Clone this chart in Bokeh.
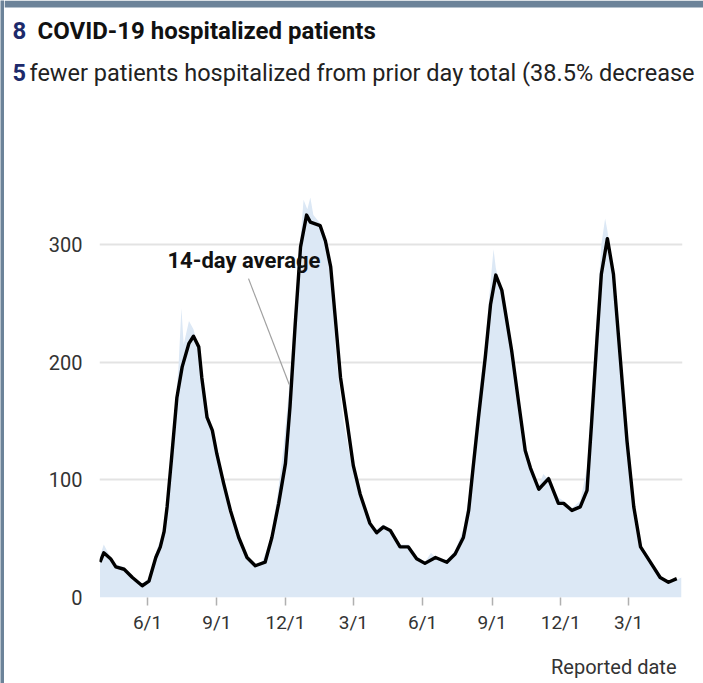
import pandas as pd
from bokeh.plotting import figure
from bokeh.layouts import row, column
from bokeh.models import (ColumnDataSource, Range1d, FixedTicker, DatetimeTickFormatter,
                          Label)
from bokeh.embed import file_html
from bokeh.resources import INLINE

# ---------------- data ----------------
avg_dates = [
    "2020-03-30", "2020-04-04", "2020-04-13", "2020-04-20", "2020-05-01", "2020-05-12",
    "2020-05-25", "2020-06-03", "2020-06-12", "2020-06-18", "2020-06-23", "2020-06-27",
    "2020-07-03", "2020-07-10", "2020-07-17", "2020-07-26", "2020-08-01", "2020-08-08",
    "2020-08-12", "2020-08-19", "2020-08-26", "2020-09-01", "2020-09-10", "2020-09-19",
    "2020-09-30", "2020-10-11", "2020-10-22", "2020-11-04", "2020-11-13", "2020-11-22",
    "2020-12-01", "2020-12-07", "2020-12-14", "2020-12-21", "2020-12-29", "2021-01-03",
    "2021-01-16", "2021-01-23", "2021-01-30", "2021-02-05", "2021-02-12", "2021-02-21",
    "2021-03-01", "2021-03-10", "2021-03-23", "2021-04-01", "2021-04-10",
    "2021-04-19", "2021-05-02", "2021-05-13", "2021-05-24", "2021-06-04", "2021-06-18",
    "2021-07-03", "2021-07-14", "2021-07-25", "2021-08-01", "2021-08-07", "2021-08-14",
    "2021-08-23", "2021-08-30", "2021-09-06", "2021-09-14", "2021-09-27", "2021-10-06",
    "2021-10-15", "2021-10-22", "2021-11-02", "2021-11-15", "2021-11-28", "2021-12-05",
    "2021-12-16", "2021-12-27", "2022-01-05", "2022-01-11", "2022-01-18", "2022-01-24",
    "2022-02-01", "2022-02-09", "2022-02-18", "2022-02-27", "2022-03-08", "2022-03-17",
    "2022-03-30", "2022-04-12", "2022-04-23", "2022-05-04",
]
avg_values = [
    30, 38, 33, 26, 24, 17,
    10, 14, 34, 43, 56, 77,
    119, 170, 196, 216, 222, 213,
    187, 153, 142, 122, 97, 74,
    51, 34, 27, 30, 51, 80,
    114, 162, 233, 298, 325, 319,
    316, 303, 281, 238, 187, 148,
    112, 88, 63, 55, 60,
    57, 43, 43, 33, 29, 34,
    30, 37, 51, 74, 111, 153,
    204, 249, 274, 261, 210, 167,
    125, 110, 92, 101, 80, 80,
    74, 77, 91, 148, 218, 275,
    305, 275, 204, 133, 77, 43,
    30, 17, 13, 16,
]

bar_dates = [
    "2020-03-30", "2020-04-04", "2020-04-13", "2020-04-20", "2020-05-01", "2020-05-12",
    "2020-05-25", "2020-06-03", "2020-06-12", "2020-06-23", "2020-06-29", "2020-07-06",
    "2020-07-12", "2020-07-16", "2020-07-19", "2020-07-26", "2020-08-01", "2020-08-08",
    "2020-08-17", "2020-08-26", "2020-09-04", "2020-09-17", "2020-10-05", "2020-10-11",
    "2020-10-20", "2020-10-31", "2020-11-11", "2020-11-20", "2020-11-28", "2020-12-07",
    "2020-12-14", "2020-12-21", "2020-12-25", "2020-12-30", "2021-01-03", "2021-01-07",
    "2021-01-16", "2021-01-25", "2021-02-01", "2021-02-07", "2021-02-16", "2021-02-27",
    "2021-03-10", "2021-03-23", "2021-04-01", "2021-04-10", "2021-04-19", "2021-05-02",
    "2021-05-13", "2021-05-24", "2021-06-04", "2021-06-12", "2021-06-18", "2021-07-03",
    "2021-07-14", "2021-07-25", "2021-08-01", "2021-08-07", "2021-08-14", "2021-08-23",
    "2021-08-30", "2021-09-03", "2021-09-06", "2021-09-14", "2021-09-27", "2021-10-06",
    "2021-10-15", "2021-10-22", "2021-11-02", "2021-11-08", "2021-11-15", "2021-11-28",
    "2021-12-05", "2021-12-16", "2021-12-27", "2022-01-05", "2022-01-11", "2022-01-18",
    "2022-01-24", "2022-01-29", "2022-02-01", "2022-02-09", "2022-02-18", "2022-02-27",
    "2022-03-08", "2022-03-17", "2022-03-30", "2022-04-12", "2022-04-23", "2022-05-04",
    "2022-05-10",
]
bar_values = [
    35, 45, 34, 28, 26, 18,
    12, 16, 38, 58, 100, 150,
    195, 246, 215, 235, 228, 210,
    165, 140, 115, 72, 40, 34,
    28, 30, 50, 85, 125, 185,
    250, 305, 338, 330, 340, 325,
    318, 296, 255, 200, 150, 112,
    85, 63, 58, 62, 58, 45,
    45, 35, 30, 38, 34, 32,
    40, 58, 85, 125, 170, 215,
    268, 296, 280, 258, 205, 165,
    125, 110, 95, 105, 100, 85,
    82, 76, 82, 110, 170, 240,
    300, 322, 312, 270, 198, 128,
    72, 42, 30, 17, 13, 15,
    17,
]

x_tick_dates = ["2020-06-01", "2020-09-01", "2020-12-01", "2021-03-01",
                "2021-06-01", "2021-09-01", "2021-12-01", "2022-03-01"]
y_ticks = [0, 100, 200, 300]

headline_count = "8"
headline_text = "COVID-19 hospitalized patients"
change_count = "5"
change_text = "fewer patients hospitalized from prior day total (38.5% decrease"
x_axis_title = "Reported date"
line_label = "14-day average"
# leader line from the label down to the rising 14-day average curve
leader_start = ("2020-10-13", 271)
leader_end = ("2020-12-06", 181)

# ---------------- layout / styling (page pixels) ----------------
W, H = 703, 683
STRIP_L, STRIP_T = 4, 7
HEAD_H = 110
FOOT_H = 43
CHART_H = H - HEAD_H - FOOT_H
INNER_W = W - STRIP_L
FL, FR, FT, FB = 99, 682, 160, 597      # chart frame edges in page pixels
BASE_FIX = 7                             # label baseline correction (px)
NAVY = "#1d2a6b"
BORDER = "#6c8399"
FILL = "#dce8f5"
FONT = "Roboto"

px_per_day = (628 - 147) / 638.0
origin = pd.Timestamp("2020-06-01")
x_start = origin + pd.Timedelta(days=(FL - 147) / px_per_day)
x_end = origin + pd.Timedelta(days=(FR - 147) / px_per_day)
px_per_unit = (597 - 244) / 300.0
y_end = (FB - FT) / px_per_unit


def no_align(f):
    if "frame_align" in type(f).properties():
        f.frame_align = False
    return f


def blank_fig(w, h, x_rng, y_rng, bg="white"):
    f = figure(width=w, height=h, x_range=x_rng, y_range=y_rng,
               output_backend="svg", toolbar_location=None,
               x_axis_location=None, y_axis_location=None,
               min_border=0, min_border_left=0, min_border_right=0,
               min_border_top=0, min_border_bottom=0)
    f.grid.visible = False
    f.outline_line_color = None
    f.background_fill_color = bg
    f.border_fill_color = bg
    return no_align(f)


# left page strip
strip = blank_fig(STRIP_L, H, Range1d(0, 1), Range1d(0, 1), bg=BORDER)

# header (data units = page pixels, y downwards)
head = blank_fig(INNER_W, HEAD_H, Range1d(STRIP_L, W), Range1d(HEAD_H, 0))
head.quad(left=[STRIP_L], right=[W], top=[0], bottom=[STRIP_T],
          fill_color=BORDER, line_color=None)


def head_label(px, py, text, size, color, style="normal"):
    head.add_layout(Label(x=px, y=py - BASE_FIX, text=text, text_font=FONT,
                          text_font_size=size, text_color=color,
                          text_font_style=style, text_baseline="alphabetic"))


head_label(12, 37, headline_count, "24px", NAVY, "bold")
head_label(37, 37, headline_text, "24px", "#111111", "bold")
head_label(12, 79, change_count, "23.5px", NAVY, "bold")
head_label(29, 79, change_text, "23.5px", "#222222")

# footer
foot_top = HEAD_H + CHART_H
foot = blank_fig(INNER_W, FOOT_H, Range1d(STRIP_L, W), Range1d(H, foot_top))
foot.add_layout(Label(x=676, y=673 - BASE_FIX, text=x_axis_title, text_font=FONT,
                      text_font_size="20px", text_color="#333333",
                      text_align="right", text_baseline="alphabetic"))

# chart
avg_src = ColumnDataSource(dict(date=pd.to_datetime(avg_dates), value=avg_values))
bar_src = ColumnDataSource(dict(date=pd.to_datetime(bar_dates), value=bar_values))

p = figure(width=INNER_W, height=CHART_H, x_axis_type="datetime",
           x_range=Range1d(x_start, x_end), y_range=Range1d(0, y_end),
           output_backend="svg", toolbar_location=None,
           min_border_left=FL - STRIP_L, min_border_right=W - FR,
           min_border_top=FT - HEAD_H, min_border_bottom=foot_top - FB)
no_align(p)
p.outline_line_color = None
p.background_fill_color = "white"
p.border_fill_color = "white"

p.varea(x="date", y1=0, y2="value", source=bar_src, fill_color=FILL, fill_alpha=1.0)
p.line(x="date", y="value", source=avg_src, line_color="black", line_width=3.4,
       line_join="round")

p.segment(x0=[pd.Timestamp(leader_start[0])], y0=[leader_start[1]],
          x1=[pd.Timestamp(leader_end[0])], y1=[leader_end[1]],
          line_color="#a0a0a0", line_width=1.2)

tick_ms = [pd.Timestamp(d).value // 10**6 for d in x_tick_dates]
xa = p.xaxis[0]
xa.ticker = FixedTicker(ticks=tick_ms)
fmt = "%-m/%-d"
xa.formatter = DatetimeTickFormatter(days=fmt, months=fmt, years=fmt, hours=fmt,
                                     minutes=fmt, seconds=fmt)
xa.axis_line_color = None
xa.major_tick_in = 0
xa.major_tick_out = 8
xa.major_tick_line_color = "#b0b0b0"
xa.major_tick_line_width = 1.5
xa.minor_tick_line_color = None
xa.major_label_text_font = FONT
xa.major_label_text_font_size = "19px"
xa.major_label_text_color = "#333333"
xa.major_label_standoff = 5

ya = p.yaxis[0]
ya.ticker = FixedTicker(ticks=y_ticks)
ya.axis_line_color = None
ya.major_tick_line_color = None
ya.major_tick_in = 0
ya.major_tick_out = 0
ya.minor_tick_line_color = None
ya.major_label_text_font = FONT
ya.major_label_text_font_size = "20px"
ya.major_label_text_color = "#333333"
ya.major_label_standoff = 17

p.xgrid.visible = False
p.ygrid.ticker = FixedTicker(ticks=[100, 200, 300])
p.ygrid.grid_line_color = "#e3e3e3"
p.ygrid.grid_line_width = 2

p.add_layout(Label(x=167 - FL, y=FB - 267 + BASE_FIX, x_units="screen", y_units="screen",
                   text=line_label, text_font=FONT, text_font_size="22px",
                   text_color="#111111", text_font_style="bold",
                   text_baseline="alphabetic"))

layout = row(strip, column(head, p, foot, spacing=0), spacing=0)
open("out.html", "w").write(file_html(layout, INLINE))
